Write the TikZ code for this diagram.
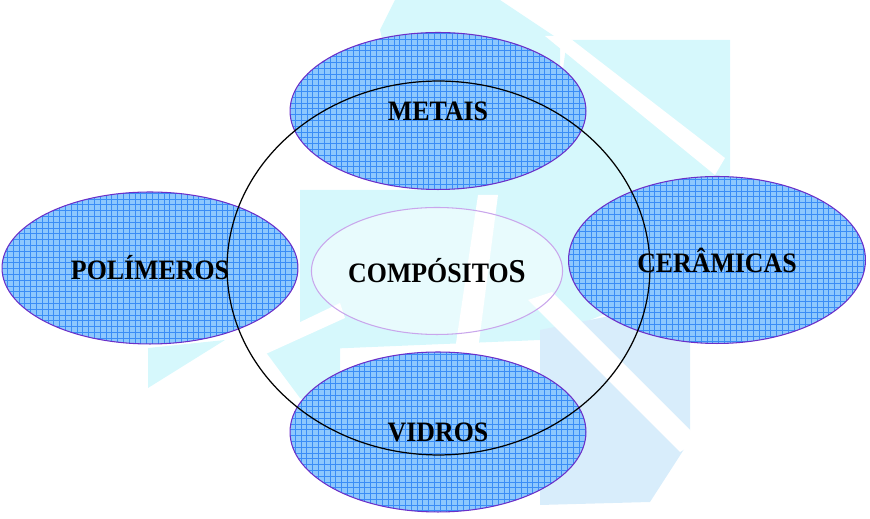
\documentclass[tikz,border=0pt]{standalone}
\usepackage{fontspec}
\setmainfont{Liberation Serif}
\usetikzlibrary{shapes.geometric}
\definecolor{matfill}{HTML}{8DC8FD}
\definecolor{matgrid}{HTML}{3A8DF6}
\definecolor{matline}{HTML}{6B2FC9}
\definecolor{compline}{HTML}{C9A6EC}
\definecolor{wmcyan}{HTML}{D6F8FC}
\definecolor{wmblue}{HTML}{D8EDFB}
\newcommand{\material}[5]{%
 \node[matbox,minimum width={#4},minimum height={#5}] ({#1}) at ({#2}) {\scalebox{.92}[1]{#3}};%
}

\begin{document}
\begin{tikzpicture}[x=0.02cm,y=-0.02cm,
  every node/.style={font=\fontsize{16}{18}\selectfont\bfseries,inner sep=0pt},
  matbox/.style={ellipse,draw=matline,line width=.6pt,fill=matfill,
   path picture={\draw[matgrid,line width=.2pt] (path picture bounding box.south west) grid[step=.116cm] (path picture bounding box.north east);}},
  ringbox/.style={ellipse,draw=black,line width=.7pt,minimum width=8.46cm,minimum height=7.48cm},
  compbox/.style={ellipse,draw=compline,line width=.6pt,fill=white,fill opacity=.45,text opacity=1,minimum width=4.92cm,minimum height=2.54cm}]
   \useasboundingbox (0,0) rectangle (870,519);
   \fill[wmcyan] (395,0) -- (500,0) -- (560,40) -- (560,200) -- (420,200) -- (380,30) -- cycle;
   \fill[wmcyan] (567,40) -- (730,40) -- (730,176) -- (650,210) -- (600,250) -- (545,200) -- cycle;
   \fill[wmcyan] (300,190) -- (560,190) -- (640,300) -- (540,340) -- (300,350) -- cycle;
   \fill[wmcyan] (148,348) -- (225,340) -- (148,388) -- cycle;
   \fill[wmcyan] (262,347) -- (340,325) -- (340,420) -- (300,398) -- cycle;
   \fill[wmblue] (540,330) -- (690,300) -- (690,440) -- (650,502) -- (540,505) -- cycle;
   \fill[white] (545,36) -- (567,36) -- (725,158) -- (715,175) -- cycle;
   \fill[white] (528,300) -- (552,292) -- (700,440) -- (680,452) -- cycle;
   \fill[white] (148,395) -- (340,303) -- (345,318) -- (160,402) -- cycle;
   \fill[white] (478,195) -- (498,195) -- (478,350) -- (455,350) -- cycle;
   \material{metais}{438,111}{METAIS}{5.92cm}{3.14cm}
   \material{polimeros}{150,268}{POLÍMEROS}{5.92cm}{3.04cm}
   \material{ceramicas}{717,260}{CERÂMICAS}{5.94cm}{3.34cm}
   \material{vidros}{438,432}{VIDROS}{5.92cm}{3.2cm}
   \node[ringbox] (anel) at (438.5,268) {};
   \node[compbox] (compositos) at (437,271) {\scalebox{.92}[1]{COMPÓSITO{\fontsize{19}{20}\selectfont S}}};
  \end{tikzpicture}
\end{document}
